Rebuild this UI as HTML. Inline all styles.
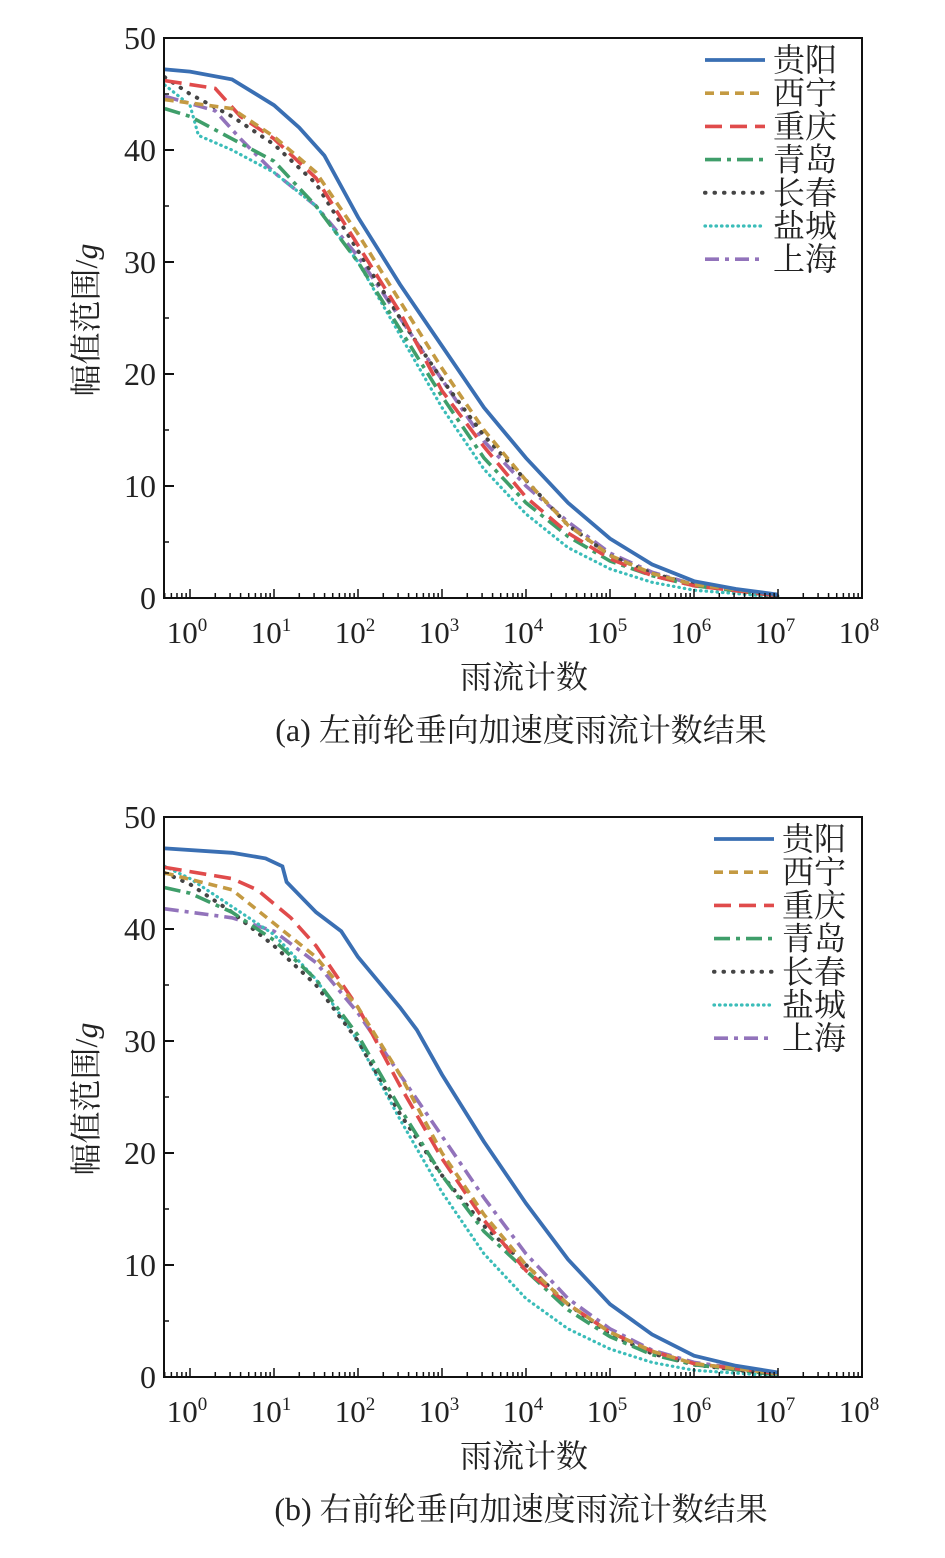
<!DOCTYPE html>
<html><head><meta charset="utf-8"><style>
body{margin:0;background:#fff}
svg text{font-family:"Liberation Serif","Noto Serif CJK SC",serif;fill:#222}
</style></head><body>
<svg id="s" width="945" height="1553" xmlns="http://www.w3.org/2000/svg"></svg>
<script>
const S=document.getElementById('s');let h='';
const styles=[
 ['#3a6fb3','',3.8],['#c49a42','9,6',3.6],['#e04b4b','17,8',3.6],['#3f9e6a','16,6,4,6',3.6],
 ['#444','0.5,9',4],['#3bbdb9','0.5,5',3.2],['#9273bb','14,6,4,6',3.6]];
const names=['贵阳','西宁','重庆','青岛','长春','盐城','上海'];
const A=[
 [[-0.3,47.2],[0,47],[0.5,46.3],[1,44],[1.3,42],[1.6,39.5],[2,34],[2.5,28],[3,22.5],[3.5,17],[4,12.5],[4.5,8.5],[5,5.3],[5.5,3],[6,1.5],[6.5,0.8],[7,0.3]],
 [[-0.3,44.5],[0.5,43.7],[1,41.2],[1.5,38],[2,32.5],[2.5,26.5],[3,20.5],[3.5,15],[4,10.5],[4.5,6.5],[5,3.8],[5.5,2.2],[6,1.2],[7,0.3]],
 [[-0.3,46.2],[0.3,45.5],[0.6,43],[1,41],[1.5,37.5],[2,31.5],[2.5,25.5],[3,18.5],[3.5,13.5],[4,9],[4.5,5.8],[5,3.5],[5.5,2],[6,1.1],[7,0.2]],
 [[-0.3,43.7],[0,43],[0.5,41],[1,39],[1.5,35],[2,30],[2.5,24],[3,18],[3.5,12.5],[4,8.5],[4.5,5.5],[5,3.3],[5.5,2],[6,1.1],[7,0.2]],
 [[-0.3,46.5],[0,45],[0.5,43],[1,40.5],[1.5,37],[2,31],[2.5,25],[3,19.5],[3.5,14.5],[4,10.5],[4.5,6.5],[5,3.8],[5.5,2.2],[6,1.2],[7,0.2]],
 [[-0.3,45.8],[0,44],[0.1,41.3],[0.5,40],[1,38],[1.5,35],[2,30],[2.5,23.5],[3,17],[3.5,11.5],[4,7.5],[4.5,4.5],[5,2.6],[5.5,1.4],[6,0.7],[7,0.1]],
 [[-0.3,44.8],[0.3,43.5],[0.6,41],[1,38],[1.5,35],[2,30.5],[2.5,25],[3,19.5],[3.5,14],[4,10],[4.5,6.8],[5,4],[5.5,2.3],[6,1.2],[7,0.2]]];
const B=[
 [[-0.3,47.2],[0.5,46.8],[0.9,46.3],[1.1,45.6],[1.15,44.2],[1.5,41.5],[1.8,39.8],[2,37.5],[2.5,33],[2.7,31],[3,27],[3.5,21],[4,15.5],[4.5,10.5],[5,6.5],[5.5,3.8],[6,1.9],[6.5,1],[7,0.4]],
 [[-0.3,45],[0.5,43.5],[1,40.5],[1.5,37.5],[2,33],[2.5,27],[3,20],[3.5,14.5],[4,10],[4.5,6.5],[5,4],[5.5,2.3],[6,1.2],[7,0.3]],
 [[-0.3,45.5],[0.5,44.5],[0.8,43.5],[1.2,41],[1.5,38.5],[2,33],[2.5,26],[3,19.5],[3.5,14],[4,9.5],[4.5,6.5],[5,4],[5.5,2.3],[6,1.2],[7,0.3]],
 [[-0.3,43.7],[0,43.2],[0.5,41.5],[1,39],[1.5,35.5],[2,30.5],[2.5,24],[3,18],[3.5,13],[4,9.5],[4.5,6],[5,3.6],[5.5,2],[6,1.1],[7,0.2]],
 [[-0.3,45],[0,44],[0.5,41.5],[1,38.5],[1.5,35],[2,30],[2.5,23.5],[3,18],[3.5,13.5],[4,10],[4.5,6.5],[5,3.8],[5.5,2.1],[6,1.1],[7,0.2]],
 [[-0.3,45.6],[0,44.5],[0.5,42],[1,39.5],[1.5,35.5],[2,30],[2.5,23],[3,16.5],[3.5,11],[4,7],[4.5,4.3],[5,2.5],[5.5,1.3],[6,0.6],[7,0.1]],
 [[-0.3,41.8],[0.5,41],[1,39.8],[1.5,37],[2,32.5],[2.5,27],[3,21.5],[3.5,16],[4,11],[4.5,7],[5,4.3],[5.5,2.4],[6,1.3],[7,0.3]]];
function cap(i){return i==4||i==5?'round':'butt';}
function chart(top,data,lx,capt){
 const bot=top+560,L=164,R=862;const X=d=>190+84*d,Y=v=>bot-v*11.2;
 h+=`<clipPath id="c${top}"><rect x="${L}" y="${top}" width="${R-L}" height="560"/></clipPath>`;
 for(let i=6;i>=0;i--){const st=styles[i];
  h+=`<polyline clip-path="url(#c${top})" fill="none" stroke="${st[0]}" stroke-width="${st[2]}" stroke-dasharray="${st[1]}" stroke-linecap="${cap(i)}" points="${data[i].map(p=>X(p[0]).toFixed(1)+','+Y(p[1]).toFixed(1)).join(' ')}"/>`;}
 h+=`<rect x="${L}" y="${top}" width="${R-L}" height="560" fill="none" stroke="#111" stroke-width="2"/>`;
 for(let v=0;v<=50;v+=10){const y=Y(v);h+=`<line x1="${L}" x2="${L+10}" y1="${y}" y2="${y}" stroke="#111" stroke-width="2"/><text x="${L-8}" y="${y+11}" font-size="32" text-anchor="end">${v}</text>`;
  if(v<50)h+=`<line x1="${L}" x2="${L+5}" y1="${y-56}" y2="${y-56}" stroke="#111" stroke-width="1.5"/>`;}
 for(let d=-1;d<=8;d++){for(let k=1;k<10;k++){const x=X(d+Math.log10(k));if(x<L||x>R)continue;
  h+=`<line x1="${x}" x2="${x}" y1="${bot}" y2="${bot-(k==1?9:5)}" stroke="#111" stroke-width="1.5"/>`;}
  if(d>=0)h+=`<text x="${X(d)-3}" y="${bot+45}" font-size="31" text-anchor="middle">10<tspan dy="-12" font-size="19">${d}</tspan></text>`;}
 h+=`<text x="524" y="${bot+90}" font-size="32" text-anchor="middle">雨流计数</text>`;
 h+=`<text x="521" y="${bot+143}" font-size="32" text-anchor="middle">${capt}</text>`;
 h+=`<text transform="translate(97,${top+282}) rotate(-90)" font-size="32" text-anchor="middle">幅值范围/<tspan font-style="italic">g</tspan></text>`;
 for(let i=0;i<7;i++){const y=top+22+33.2*i,st=styles[i];
  h+=`<line x1="${lx}" x2="${lx+60}" y1="${y}" y2="${y}" stroke="${st[0]}" stroke-width="${st[2]}" stroke-dasharray="${st[1]}" stroke-linecap="${cap(i)}"/><text x="${lx+68}" y="${y+11}" font-size="32">${names[i]}</text>`;}
}
chart(38,A,705,'(a) 左前轮垂向加速度雨流计数结果');
chart(817,B,714,'(b) 右前轮垂向加速度雨流计数结果');
S.innerHTML=h;
</script>
</body></html>
